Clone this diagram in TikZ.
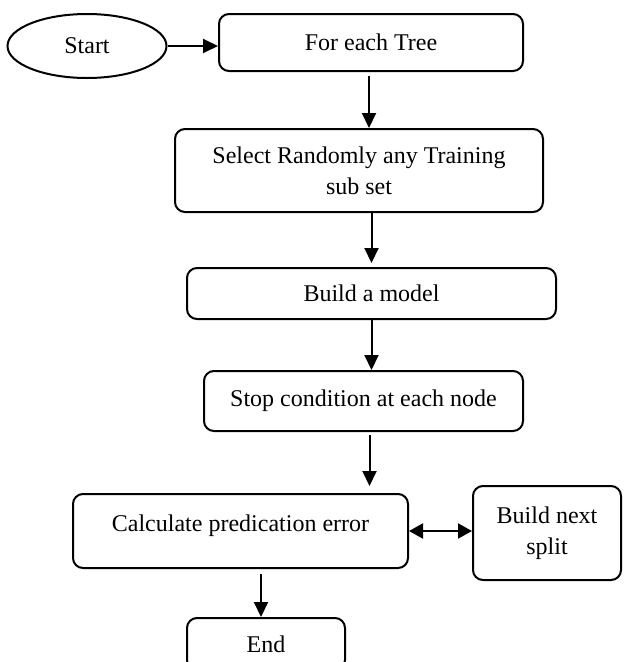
\documentclass[tikz,border=0pt]{standalone}
\usepackage{fontspec}
\setmainfont{Liberation Serif}
\usetikzlibrary{arrows.meta,shapes.geometric,calc}

\begin{document}
\begin{tikzpicture}[x=1pt, y=-1pt,
  outline/.style={draw, line width=2pt, inner sep=0pt, align=center, font=\fontsize{24}{31}\selectfont},
  box/.style={outline, rounded corners=10pt},
  oval/.style={outline, ellipse},
  arr/.style={line width=2pt, -{Triangle[length=15pt,width=14pt]}}]
\useasboundingbox (0,0) rectangle (624,662);

% steps
\node[oval, minimum width=159pt, minimum height=64pt] (start) at (87,46) {Start};
\node[box, minimum width=304pt, minimum height=57pt] (tree) at (371,42.5) {For each Tree};
\node[box, minimum width=368pt, minimum height=83pt] (subset) at (359,170.5) {Select Randomly any Training\\sub set};
\node[box, minimum width=369pt, minimum height=51pt] (model) at (371.5,293.5) {Build a model};
\node[box, minimum width=319pt, minimum height=60pt] (stop) at (363.5,401) {Stop condition at each node};
\node[box, minimum width=335pt, minimum height=74pt, text depth=16.4pt] (calc) at (240.5,531) {Calculate predication error};
\node[box, minimum width=148pt, minimum height=94pt] (split) at (547,533) {Build next\\split};
\node[box, minimum width=158pt, minimum height=52pt] (end) at (266,644) {End};

% arrow start points
\coordinate (tree out) at ($(tree.south)+(-2,0)$);
\coordinate (stop out) at ($(stop.south)+(6,0)$);
\coordinate (end in) at ($(end.north)+(-5,0)$);

% connectors
\draw[arr] (start.east) -- (start.east -| tree.west);
\draw[arr, shorten <=4pt] (tree out) -- (tree out |- subset.north);
\draw[arr, shorten >=4pt] (model.north |- subset.south) -- (model.north);
\draw[arr] (model.south) -- (model.south |- stop.north);
\draw[arr, shorten <=3pt, shorten >=7pt] (stop out) -- (stop out |- calc.north);
\draw[line width=2pt, {Triangle[length=14pt,width=15pt]}-{Triangle[length=14pt,width=15pt]}] (calc.east) -- (calc.east -| split.west);
\draw[arr, shorten <=5pt] (end in |- calc.south) -- (end in);

\end{tikzpicture}
\end{document}
